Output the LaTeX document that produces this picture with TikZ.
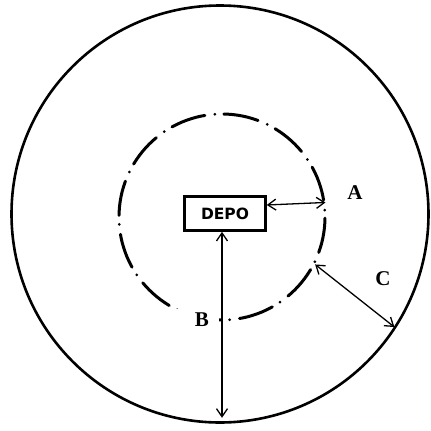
\documentclass[tikz,border=0pt]{standalone}
\usepackage{fontspec}
\usepackage{tikz}
\usetikzlibrary{arrows.meta}
\newfontfamily\depofont{DejaVu Sans}
\newfontfamily\lblfont{Liberation Serif}

\begin{document}
\begin{tikzpicture}[x=1pt, y=-1pt, >={Straight Barb[length=8pt,width=11pt]},
  lbl/.style={font=\lblfont\bfseries\fontsize{21}{21}\selectfont, inner sep=0pt}]
  \useasboundingbox (0,0) rectangle (431,431);
  \node[draw,circle,line width=2.6pt,minimum size=417pt,inner sep=0pt] (outer) at (220,214) {};
  \node[draw,circle,line width=3pt,minimum size=206pt,inner sep=0pt,line cap=round,
        dash pattern=on 35pt off 9pt on 0pt off 10pt,dash phase=37pt] (ring) at (222,217) {};
  \node[draw,line width=2.6pt,minimum width=81pt,minimum height=34pt,inner sep=0pt,
        font=\depofont\bfseries\fontsize{15.5}{15.5}\selectfont] (depo) at (225,213.5) {DEPO};
  % B sits in a white patch over the ring
  \node[lbl,fill=white,text width=24pt,align=right,inner xsep=10pt,inner ysep=4pt] (lblB) at (197,320) {B};
  \draw[<->,line width=1.3pt] ([yshift=8.5pt]depo.east) -- (ring.8);
  \draw[<->,line width=1.3pt,shorten >=6pt] ([xshift=-3pt]depo.south) -- ([xshift=-3pt]depo.south |- outer.south);
  \draw[<->,line width=1.3pt,shorten >=2pt] (ring.-27) -- (outer.-33);
  \node[lbl] (lblA) at (355,193) {A};
  \node[lbl] (lblC) at (383,279) {C};
\end{tikzpicture}
\end{document}
